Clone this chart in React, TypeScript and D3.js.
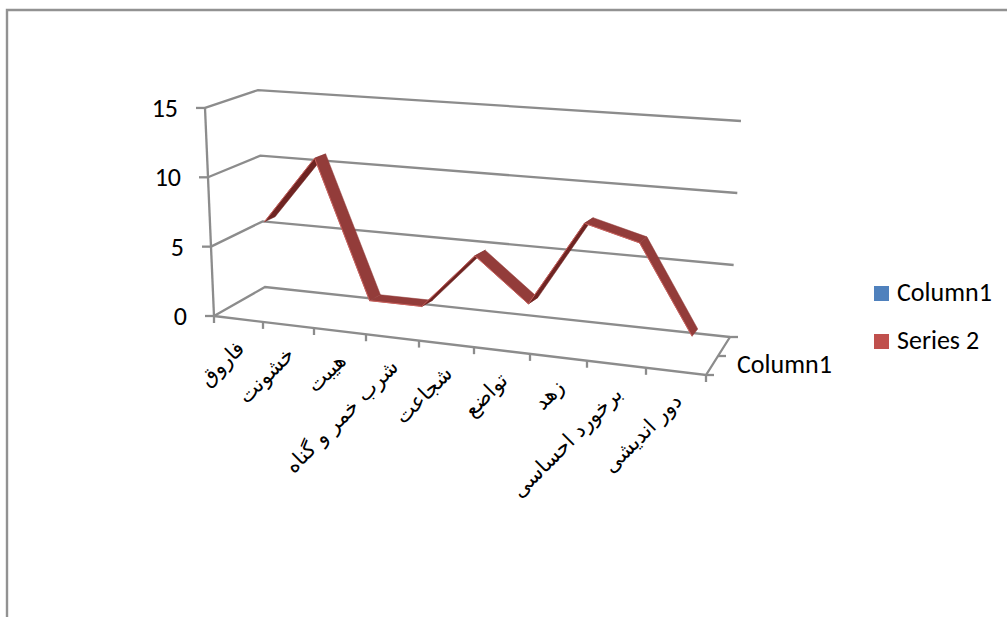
import React from "react";
import * as d3 from "d3";

const categories = ["فاروق", "خشونت", "هیبت", "شرب خمر و گناه", "شجاعت", "تواضع", "زهد", "برخورد احساسی", "دور اندیشی"];
const series2 = [6, 11, 1, 1, 5, 2, 8, 7, 1];
const valueTicks = [0, 5, 10, 15];
const legendItems = ["Column1", "Series 2"];
const legendColors = ["#4f81bd", "#c0504d"];
const depthLabel = "Column1";

const W = 1007;
const H = 617;
const FONT = "Carlito, Calibri, Lato, 'Open Sans', sans-serif";
const ARABIC = "'DejaVu Sans', sans-serif";
const GRID = "#8c8c8c";
const TEXT_SIZE = 26;

// Perspective of the category axis: spacing widens towards the viewer's right.
const stops = d3.range(0, 10);
const frontX = d3.scaleLinear().domain(stops).range([214, 263, 314, 366, 419, 474, 530, 587, 646, 706]);
const backX = d3.scaleLinear().domain([0, 9]).range([265, 730]);
const frontY = d3.scaleLinear().domain([214, 706]).range([316, 375]);
const backY = d3.scaleLinear().domain([265, 730]).range([287, 337]);

// Screen height and lean of one value unit at the four floor corners.
const riseFront = d3.scaleLinear().domain([0, 9]).range([13.87, 15.2]);
const riseBack = d3.scaleLinear().domain([0, 9]).range([13.13, 14.4]);
const leanFront = d3.scaleLinear().domain([0, 9]).range([-0.6, 0.6]);
const leanBack = d3.scaleLinear().domain([0, 9]).range([-0.47, 0.73]);

// Projects (category position, value, depth 0..1) to screen coordinates.
function project(u: number, v: number, d: number): [number, number] {
  const fx = frontX(u);
  const bx = backX(u);
  const fy = frontY(fx);
  const by = backY(bx);
  const x = fx + (bx - fx) * d + (leanFront(u) + (leanBack(u) - leanFront(u)) * d) * v;
  const y = fy + (by - fy) * d - (riseFront(u) + (riseBack(u) - riseFront(u)) * d) * v;
  return [x, y];
}

const line = d3.line<[number, number]>();
const RIBBON_NEAR = 0.55;
const RIBBON_FAR = 0.75;

export default function App() {
  const points = series2.map((v, i) => ({ u: i + 0.5, v }));
  const segments = d3.pairs(points);
  return (
    <svg width={W} height={H} style={{ position: "absolute", left: 0, top: 0 }}>
      <rect x={0} y={0} width={W} height={H} fill="#fff" />
      <path d="M7,617 V10 H1007" fill="none" stroke="#929292" strokeWidth={2.4} />

      {/* walls and gridlines */}
      {valueTicks.map((t) => (
        <g key={t} fill="none" stroke={GRID} strokeWidth={2.3}>
          <path d={line([project(0, t, 0), project(0, t, 1), project(9, t, 1)]) ?? ""} />
          <path d={line([[project(0, t, 0)[0] - 9, project(0, t, 0)[1]], project(0, t, 0)]) ?? ""} />
        </g>
      ))}
      <g fill="none" stroke={GRID} strokeWidth={2.3}>
        <path d={line([project(0, 0, 0), project(0, 15, 0)]) ?? ""} />
        <path d={line([project(0, 0, 0), project(9, 0, 0), project(9, 0, 1)]) ?? ""} />
        {stops.map((s) => (
          <path key={s} d={line([project(s, 0, 0), [project(s, 0, 0)[0], project(s, 0, 0)[1] + 7]]) ?? ""} />
        ))}
        <path d={line([project(9, 0, 1), [project(9, 0, 1)[0] + 8, project(9, 0, 1)[1]]]) ?? ""} />
        <path d={line([project(9, 0, 0.5), [project(9, 0, 0.5)[0] + 8, project(9, 0, 0.5)[1]]]) ?? ""} />
        <path d={line([project(9, 0, 0), [project(9, 0, 0)[0] + 8, project(9, 0, 0)[1]]]) ?? ""} />
      </g>

      {/* value labels */}
      {valueTicks.map((t) => {
        const [x, y] = project(0, t, 0);
        return (
          <text key={t} x={x - 27} y={y} dy="0.35em" textAnchor="end" fontFamily={FONT} fontSize={TEXT_SIZE} fill="#000">
            {t}
          </text>
        );
      })}

      {/* ribbon of the second series */}
      {segments.map(([a, b], i) => {
        const quad: [number, number][] = [
          project(a.u, a.v, RIBBON_NEAR),
          project(b.u, b.v, RIBBON_NEAR),
          project(b.u, b.v, RIBBON_FAR),
          project(a.u, a.v, RIBBON_FAR),
        ];
        const rising = b.v > a.v;
        const face = rising ? "#6f2422" : "#933c3a";
        return (
          <g key={i}>
            <path d={(line(quad) ?? "") + "Z"} fill={face} stroke={face} strokeWidth={0.5} />
            <path d={line([quad[0], quad[1]]) ?? ""} stroke="#c9605c" strokeWidth={1} fill="none" />
          </g>
        );
      })}

      {/* category labels */}
      {categories.map((c, i) => {
        const [x, y] = project(i + 0.5, 0, 0);
        return (
          <text
            key={c}
            transform={`translate(${x + 7},${y + 31}) rotate(-45)`}
            textAnchor="start"
            direction="rtl"
            fontFamily={ARABIC}
            fontSize={21}
            fill="#000"
          >
            {c}
          </text>
        );
      })}

      <text x={737} y={373} fontFamily={FONT} fontSize={TEXT_SIZE} fill="#000">{depthLabel}</text>

      {/* legend */}
      {legendItems.map((name, i) => (
        <g key={name} transform={`translate(874,${286 + i * 48})`}>
          <rect width={15} height={15} fill={legendColors[i]} />
          <text x={23} y={15} fontFamily={FONT} fontSize={TEXT_SIZE} fill="#000">{name}</text>
        </g>
      ))}
    </svg>
  );
}
